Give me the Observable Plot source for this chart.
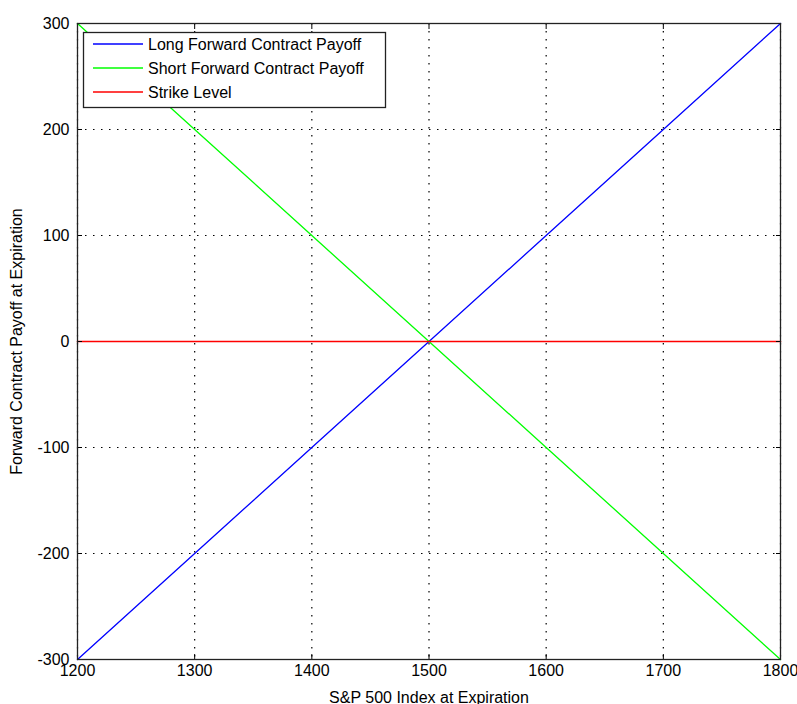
<!DOCTYPE html>
<html>
<head>
<meta charset="utf-8">
<script src="https://cdn.jsdelivr.net/npm/d3@7"></script>
<script src="https://cdn.jsdelivr.net/npm/@observablehq/plot@0.6"></script>
<style>
  html, body { margin: 0; padding: 0; background: #fff; }
  #chart { width: 797px; height: 704px; }
</style>
</head>
<body>
<div id="chart"></div>
<script>
const indexLevels = [1200, 1300, 1400, 1500, 1600, 1700, 1800];
const longPayoff  = [-300, -200, -100, 0, 100, 200, 300];
const shortPayoff = [300, 200, 100, 0, -100, -200, -300];
const strikeLevel = [0, 0, 0, 0, 0, 0, 0];
const xTicks = [1200, 1300, 1400, 1500, 1600, 1700, 1800];
const yTicks = [-300, -200, -100, 0, 100, 200, 300];
const seriesNames = ["Long Forward Contract Payoff", "Short Forward Contract Payoff", "Strike Level"];
const seriesColors = ["#0000ff", "#00ff00", "#ff0000"];
const seriesWidths = [1.3, 1.3, 1.7];

const seriesData = [longPayoff, shortPayoff, strikeLevel].map(vals =>
  indexLevels.map((x, i) => ({x, y: vals[i]})));

const font = "'Liberation Sans', Arial, Helvetica, sans-serif";

const plot = Plot.plot({
  width: 797,
  height: 704,
  marginLeft: 77,
  marginRight: 17,
  marginTop: 23,
  marginBottom: 45,
  style: {background: "#fff", fontFamily: font, fontSize: "16px", color: "#000"},
  x: {domain: [1200, 1800], ticks: xTicks},
  y: {domain: [-300, 300], ticks: yTicks},
  marks: [
    Plot.gridX(xTicks, {stroke: "#000", strokeOpacity: 1, strokeDasharray: "1.5,6.5", strokeWidth: 1.2}),
    Plot.gridY(yTicks, {stroke: "#000", strokeOpacity: 1, strokeDasharray: "1.5,6.5", strokeWidth: 1.2}),
    ...seriesData.map((d, i) => Plot.line(d, {x: "x", y: "y", stroke: seriesColors[i], strokeWidth: seriesWidths[i]})),
    Plot.axisX(xTicks, {anchor: "bottom", tickSize: -5, tickPadding: 10, tickFormat: d => String(d),
      label: "S&P 500 Index at Expiration", labelAnchor: "center", labelArrow: "none", labelOffset: 43}),
    Plot.axisX(xTicks, {anchor: "top", tickSize: -5, tickFormat: () => "", label: null}),
    Plot.axisY(yTicks, {anchor: "left", tickSize: -5, tickPadding: 13, tickFormat: d => String(d),
      label: "Forward Contract Payoff at Expiration", labelAnchor: "center", labelArrow: "none", labelOffset: 67}),
    Plot.axisY(yTicks, {anchor: "right", tickSize: -5, tickFormat: () => "", label: null}),
    Plot.frame({stroke: "#222", strokeWidth: 1.3})
  ]
});

document.getElementById("chart").appendChild(plot);

// Legend box (MATLAB style) drawn inside the plot's SVG
const svg = d3.select(plot);
const lg = svg.append("g").attr("class", "legend").attr("text-anchor", "start");
const bx = 83, by = 32, bw = 302, bh = 75;
lg.append("rect").attr("x", bx + 0.5).attr("y", by + 0.5).attr("width", bw).attr("height", bh)
  .attr("fill", "#fff").attr("stroke", "#222").attr("stroke-width", 1.3);
seriesNames.forEach((name, i) => {
  const yy = by + 12 + i * 24;
  lg.append("line").attr("x1", bx + 10).attr("x2", bx + 60).attr("y1", yy).attr("y2", yy)
    .attr("stroke", seriesColors[i]).attr("stroke-width", seriesWidths[i]);
  lg.append("text").attr("x", bx + 65).attr("y", yy).attr("dy", "0.35em")
    .attr("text-anchor", "start")
    .attr("font-family", font).attr("font-size", "16px").attr("fill", "#000").text(name);
});
</script>
</body>
</html>
